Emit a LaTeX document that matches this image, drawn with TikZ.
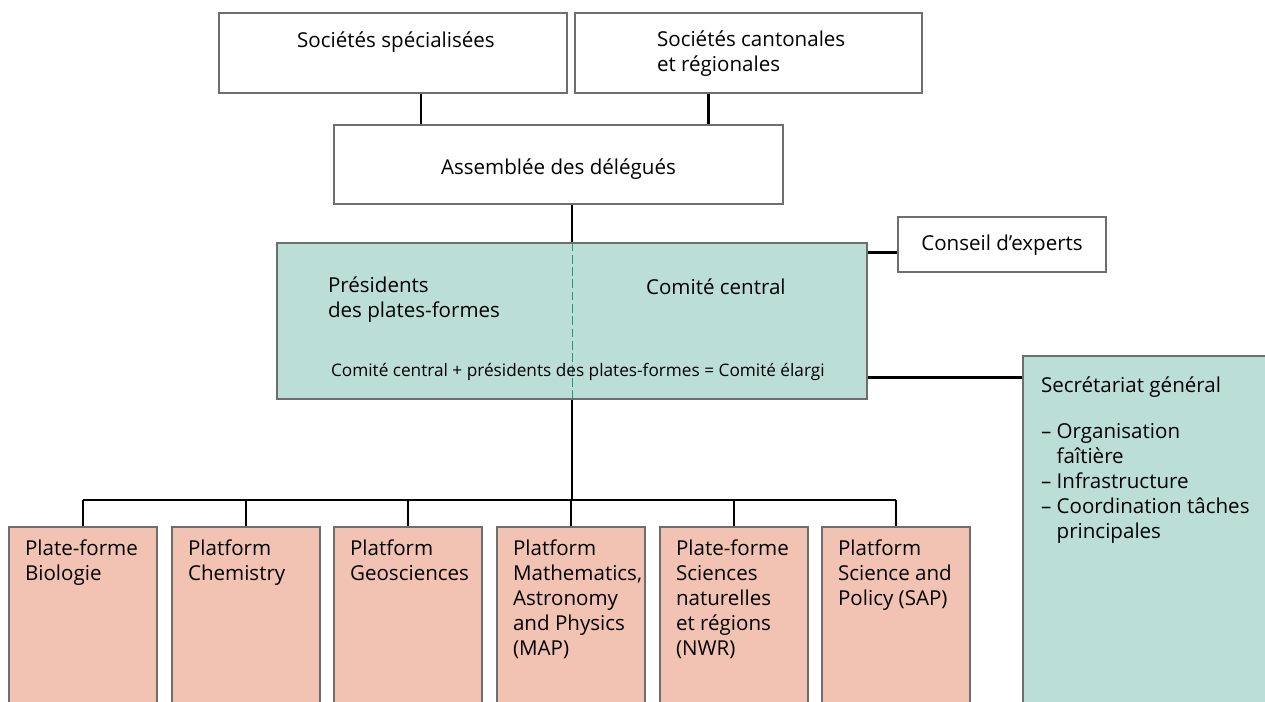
\documentclass[tikz,border=0pt]{standalone}
\usepackage{fontspec}
\setmainfont{Open Sans}
\usetikzlibrary{fit,calc}
\definecolor{gristrait}{HTML}{6E6E6E}
\definecolor{vertclair}{HTML}{BBDFD7}
\definecolor{vertfonce}{HTML}{1E9C78}
\definecolor{saumon}{HTML}{F2C3B2}

\begin{document}
\begin{tikzpicture}[x=0.02cm, y=-0.02cm, line width=1.2pt,
    font=\fontsize{11.7}{14.2}\selectfont,
    boite/.style={draw=gristrait, line width=0.6pt, fill=white, inner sep=0pt},
    verte/.style={boite, fill=vertclair},
    rose/.style={boite, fill=saumon},
    txt/.style={inner sep=0pt, align=left},
    pointilles/.style={draw=vertfonce, line width=0.5pt, dash pattern=on 5pt off 2pt}]
  \useasboundingbox (0,0) rectangle (1265,702);
  % sociétés
  \node[boite, fit={(219,13) (567,93)}] (spec) {};
  \node[txt, anchor=base] at (396,48) {Sociétés spécialisées};
  \node[boite, fit={(575,13) (922,93)}] (cant) {};
  \node[txt, anchor=north west] at (656,30) {Sociétés cantonales\\et régionales};
  % assemblée
  \node[boite, fit={(334,125) (783,204)}] (assem) {};
  \node[txt, anchor=base] at ($(assem.center)+(0,10)$) {Assemblée des délégués};
  % comité
  \node[verte, fit={(277,243) (867,399)}] (comite) {};
  \draw[pointilles] (comite.north) -- (comite.south);
  \node[txt, anchor=north west] at (327,276) {Présidents\\des plates-formes};
  \node[txt, anchor=base west] at (645,295) {Comité central};
  \node[txt, anchor=base west, font=\fontsize{9.8}{11}\selectfont] at (330,377)
    {Comité central + présidents des plates-formes = Comité élargi};
  \node[boite, fit={(898,217) (1106,272)}] (conseil) {};
  \node[txt, anchor=base] at ($(conseil.center)+(0,6)$) {Conseil d’experts};
  % secrétariat
  \node[verte, fit={(1023,356) (1285,725)}] (secr) {};
  \node[txt, anchor=north west] at (1040,376)
    {Secrétariat général\\[12pt]– Organisation\\\phantom{– }faîtière\\– Infrastructure\\– Coordination tâches\\\phantom{– }principales};
  % plates-formes
  \foreach \i/\x/\t in {1/9/{Plate-forme\\Biologie},
                        2/172/{Platform\\Chemistry},
                        3/334/{Platform\\Geosciences},
                        4/497/{Platform\\Mathematics,\\Astronomy\\and Physics\\(MAP)},
                        5/660/{Plate-forme\\Sciences\\naturelles\\et régions\\(NWR)},
                        6/822/{Platform\\Science and\\Policy (SAP)}} {
    \node[rose, fit={(\x,527) (\x+148,725)}] (pf\i) {};
    \node[txt, anchor=north west] at (\x+15,539) {\t};
  }
  % liaisons
  \coordinate (bus) at (572,500);
  \draw ($(spec.south)+(28,0)$) coordinate (s1) -- (s1 |- assem.north);
  \draw ($(cant.south)+(-40,0)$) coordinate (s2) -- (s2 |- assem.north);
  \draw (comite.north) -- (comite.north |- assem.south);
  \draw ($(conseil.west)+(0,8)$) coordinate (c1) -- (c1 -| comite.east);
  \draw ($(secr.north west)+(0,22)$) coordinate (c2) -- (c2 -| comite.east);
  \draw (comite.south) -- (bus);
  \draw (pf1.north |- bus) -- (pf6.north |- bus);
  \foreach \i in {1,...,6}
    \draw (pf\i.north) -- (pf\i.north |- bus);
\end{tikzpicture}
\end{document}
